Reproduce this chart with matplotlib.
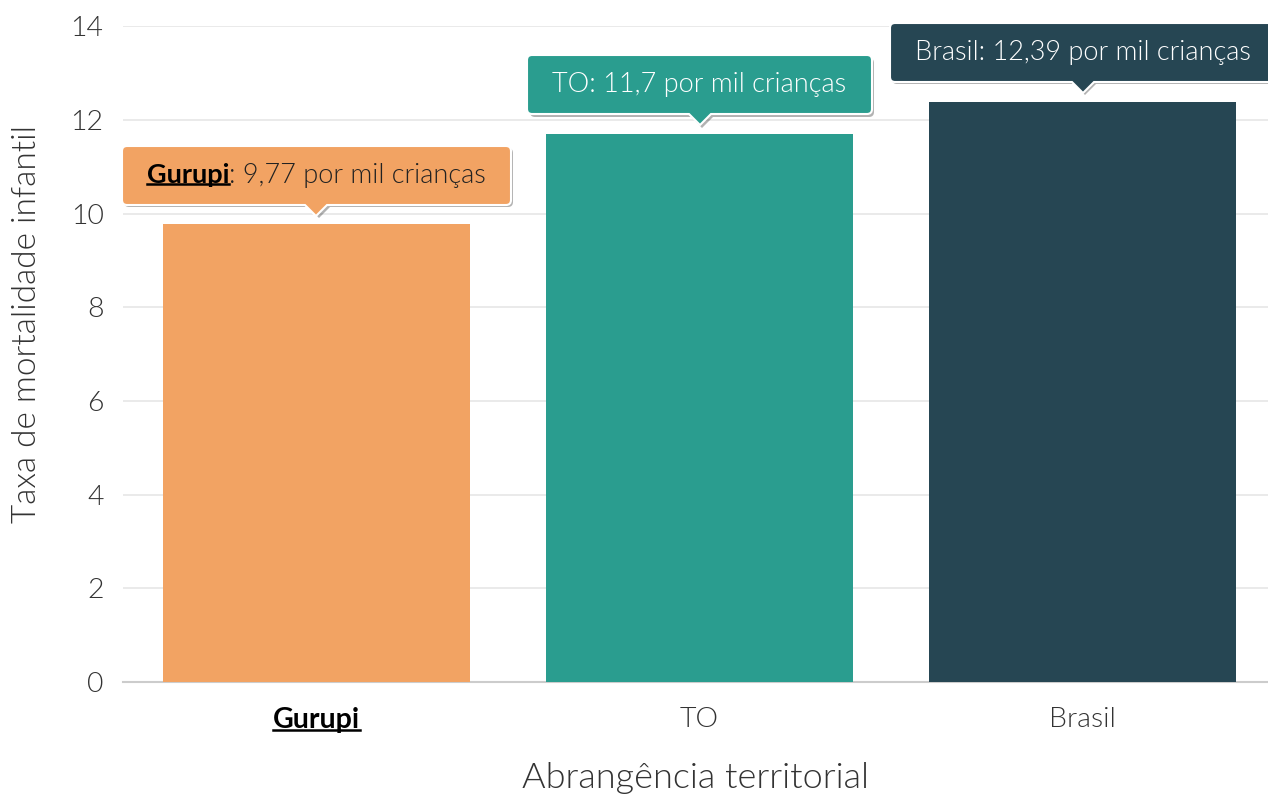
import numpy as np
import matplotlib
matplotlib.use("Agg")
import matplotlib.pyplot as plt
from matplotlib.path import Path
from matplotlib.lines import Line2D
from matplotlib.transforms import IdentityTransform
from matplotlib.offsetbox import TextArea, HPacker, AnnotationBbox
import matplotlib.patheffects as pe

plt.rcParams["font.family"] = ["Lato", "DejaVu Sans"]

regions = ["Gurupi", "TO", "Brasil"]
rates = [9.77, 11.7, 12.39]
rate_text = ["9,77", "11,7", "12,39"]
bar_colors = ["#F2A363", "#2A9D8F", "#264653"]
label_colors = ["#222222", "#ffffff", "#ffffff"]
highlight = "Gurupi"

LIGHT = 300
FS = 19.5


def tooltip_box(x0, y0, w, h, mutation_size):
    # rounded box with a small pointer at the bottom center (pixels)
    px, py, r, tw, th = 25, 17, 5, 11, 11
    left, right = x0 - px, x0 + w + px
    bottom, top = y0 - py, y0 + h + py
    cx = (left + right) / 2
    verts = [(left + r, bottom), (cx - tw, bottom), (cx, bottom - th), (cx + tw, bottom),
             (right - r, bottom), (right, bottom), (right, bottom + r),
             (right, top - r), (right, top), (right - r, top),
             (left + r, top), (left, top), (left, top - r),
             (left, bottom + r), (left, bottom), (left + r, bottom),
             (left + r, bottom)]
    codes = [Path.MOVETO, Path.LINETO, Path.LINETO, Path.LINETO,
             Path.LINETO, Path.CURVE3, Path.CURVE3,
             Path.LINETO, Path.CURVE3, Path.CURVE3,
             Path.LINETO, Path.CURVE3, Path.CURVE3,
             Path.LINETO, Path.CURVE3, Path.CURVE3,
             Path.CLOSEPOLY]
    return Path(verts, codes)


fig = plt.figure(figsize=(12.68, 7.94), dpi=100)
ax = fig.add_axes([0.097, 0.141, 0.903, 0.826])

x = np.arange(len(regions))
ax.bar(x, rates, width=0.8, color=bar_colors, zorder=3)

ax.set_xlim(-0.505, 2.484)
ax.set_ylim(0, 14)
ax.set_yticks(np.arange(0, 15, 2))
ax.set_xticks(x)
ax.set_xticklabels(regions)
ax.grid(axis="y", color="#e6e6e6", linewidth=1.2, zorder=0)
for s in ["left", "right", "top"]:
    ax.spines[s].set_visible(False)
ax.spines["bottom"].set_color("#cccccc")
ax.spines["bottom"].set_linewidth(1.5)
ax.tick_params(axis="both", length=0, labelsize=20.5, labelcolor="#333333")
ax.tick_params(axis="y", pad=14)
ax.tick_params(axis="x", pad=18)
for t in ax.get_yticklabels() + ax.get_xticklabels():
    t.set_fontweight(LIGHT)
gurupi_tick = ax.get_xticklabels()[0]
gurupi_tick.set_fontweight("bold")
gurupi_tick.set_color("black")

ax.set_xlabel("Abrangência territorial", fontsize=26, fontweight=LIGHT, color="#333333", labelpad=21)
ax.set_ylabel("Taxa de mortalidade infantil", fontsize=24, fontweight=LIGHT, color="#333333")
ax.yaxis.set_label_coords(-0.071, 0.5465)

underline_texts = [gurupi_tick]
for i, name in enumerate(regions):
    rest = ": " + rate_text[i] + " por mil crianças"
    if name == highlight:
        head = TextArea(name, textprops=dict(fontsize=FS, fontweight="bold", color="black"))
        underline_texts.append(head._text)
        tail = TextArea(rest, textprops=dict(fontsize=FS, fontweight=LIGHT, color=label_colors[i]))
        content = HPacker(children=[head, tail], pad=0, sep=0, align="baseline")
    else:
        content = TextArea(name + rest, textprops=dict(fontsize=FS, fontweight=LIGHT, color=label_colors[i]))
    ab = AnnotationBbox(content, (x[i], rates[i]), xybox=(0, 35.3), xycoords="data",
                        boxcoords="offset points", box_alignment=(0.5, 0.5),
                        bboxprops=dict(boxstyle=tooltip_box, fc=bar_colors[i], ec="white", lw=1.5),
                        annotation_clip=False, zorder=5)
    ab.patch.set_path_effects([pe.SimplePatchShadow(offset=(1.5, -1.5), alpha=0.3, shadow_rgbFace="black"),
                               pe.Normal()])
    ax.add_artist(ab)

# underline the highlighted region name
fig.canvas.draw()
renderer = fig.canvas.get_renderer()
for t in underline_texts:
    bb = t.get_window_extent(renderer)
    yy = bb.y0 + 0.12 * bb.height
    fig.add_artist(Line2D([bb.x0, bb.x1], [yy, yy], color="black", linewidth=1.8,
                          transform=IdentityTransform(), zorder=10))

fig.savefig("out.png", dpi=100)
